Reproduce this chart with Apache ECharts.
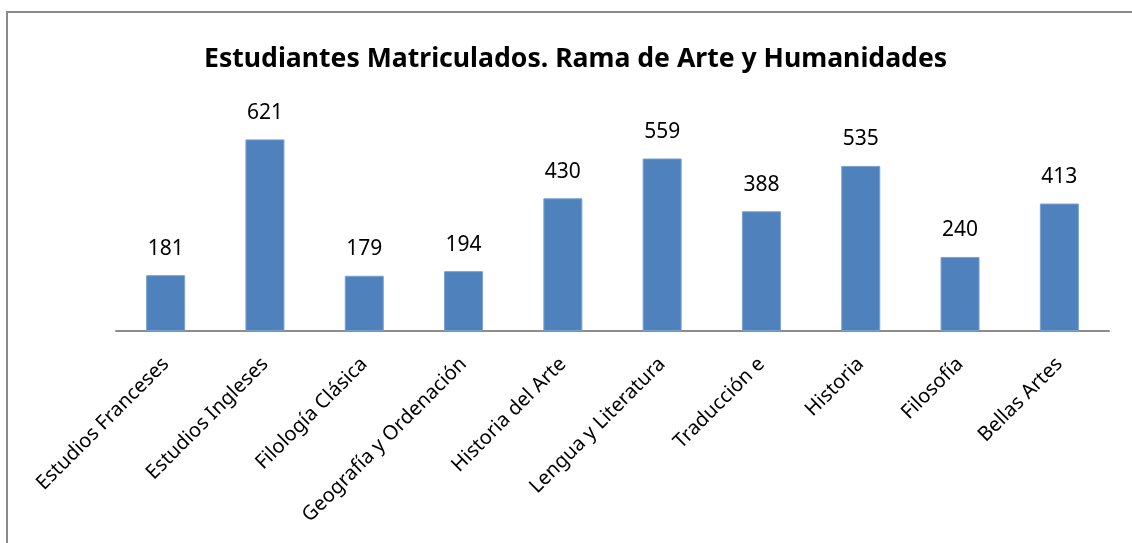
<!DOCTYPE html>
<html>
<head>
<meta charset="utf-8">
<script src="https://cdn.jsdelivr.net/npm/echarts@6/dist/echarts.min.js"></script>
<style>
  html, body { margin: 0; padding: 0; background: #fff; }
  #chart { width: 1132px; height: 543px; }
</style>
</head>
<body>
<div id="chart"></div>
<script>
var categories = ['Estudios Franceses', 'Estudios Ingleses', 'Filología Clásica', 'Geografía y Ordenación',
  'Historia del Arte', 'Lengua y Literatura', 'Traducción e', 'Historia', 'Filosofía', 'Bellas Artes'];
var matriculados = [181, 621, 179, 194, 430, 559, 388, 535, 240, 413];

var myChart = echarts.init(document.getElementById('chart'));
var font = '"Noto Sans", "Open Sans", sans-serif';

var option = {
  backgroundColor: '#fff',
  title: {
    text: 'Estudiantes Matriculados. Rama de Arte y Humanidades',
    left: 199,
    top: 41,
    textStyle: { fontFamily: font, fontWeight: 'bold', fontSize: 26.6, color: '#000' }
  },
  graphic: [
    {
      type: 'rect',
      shape: { x: 7, y: 12, width: 1140, height: 560 },
      style: { fill: 'none', stroke: '#8a8a8a', lineWidth: 2 },
      silent: true
    }
  ],
  grid: { left: 116, right: 23, top: 115, bottom: 212, containLabel: false },
  xAxis: {
    type: 'category',
    data: categories,
    axisLine: { lineStyle: { color: '#8c8c8c', width: 2 } },
    axisTick: { show: false },
    axisLabel: {
      interval: 0,
      rotate: 45,
      margin: 30,
      fontFamily: font,
      fontSize: 20,
      color: '#000'
    }
  },
  yAxis: {
    type: 'value',
    min: 0,
    max: 700,
    show: false,
    splitLine: { show: false }
  },
  series: [
    {
      type: 'bar',
      data: matriculados,
      barWidth: 39,
      itemStyle: { color: '#4f81bd', borderColor: '#7aa0d0', borderWidth: 1 },
      label: {
        show: true,
        position: 'top',
        distance: 16,
        fontFamily: font,
        fontSize: 21,
        color: '#000'
      }
    }
  ]
};

if (option && typeof option === 'object') {
  myChart.setOption(option);
}
</script>
</body>
</html>
